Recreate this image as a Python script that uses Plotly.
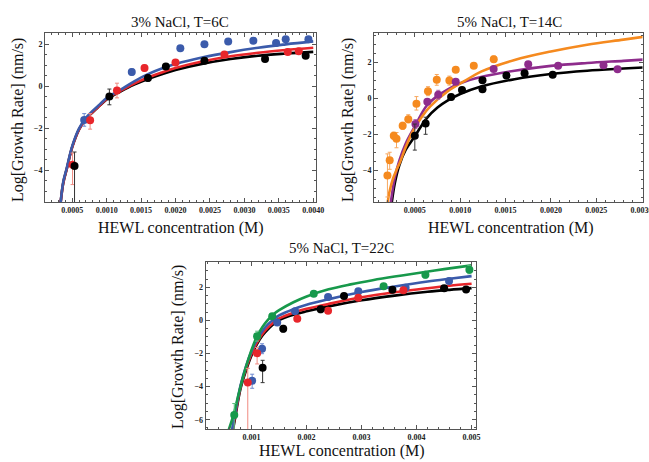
import plotly.graph_objects as go

# ---------------- Panel 1: 3% NaCl, T=6C ----------------
p1_blue_x = [0.000674, 0.001365, 0.00207, 0.00242, 0.002765, 0.00313, 0.00346, 0.0036, 0.00393]
p1_blue_y = [-1.60, 0.68, 1.81, 2.01, 2.14, 2.17, 2.06, 2.24, 2.24]
p1_blue_ep = [0.30, 0.15, 0.10, 0.06, 0.06, 0.06, 0.06, 0.06, 0.06]
p1_blue_em = [0.30, 0.15, 0.10, 0.06, 0.06, 0.06, 0.06, 0.06, 0.06]

p1_red_x = [0.000505, 0.00076, 0.00115, 0.00155, 0.0020, 0.00271, 0.00363, 0.00379]
p1_red_y = [-3.73, -1.62, -0.20, 0.87, 1.13, 1.51, 1.63, 1.67]
p1_red_ep = [0.55, 0.32, 0.35, 0.15, 0.10, 0.08, 0.08, 0.08]
p1_red_em = [0.95, 0.42, 0.35, 0.15, 0.10, 0.08, 0.08, 0.08]

p1_black_x = [0.000534, 0.00104, 0.0016, 0.00186, 0.00242, 0.0033, 0.00389]
p1_black_y = [-3.79, -0.48, 0.40, 0.95, 1.22, 1.30, 1.46]
p1_black_ep = [0.66, 0.35, 0.15, 0.08, 0.10, 0.08, 0.12]
p1_black_em = [2.50, 0.40, 0.15, 0.08, 0.10, 0.08, 0.12]

p1_fit_x = [0.00033, 0.00037, 0.00042, 0.0005, 0.0006, 0.0007, 0.0008, 0.0009, 0.0010,
            0.0012, 0.0014, 0.0016, 0.0018, 0.0020, 0.0024, 0.0028, 0.0032, 0.0036, 0.0040]
p1_fit_black = [-5.6, -4.6, -3.95, -2.9, -2.05, -1.55, -1.22, -0.92, -0.62,
                -0.25, 0.08, 0.35, 0.58, 0.78, 1.08, 1.30, 1.46, 1.56, 1.64]
p1_fit_red = [-5.6, -4.6, -3.95, -2.9, -2.05, -1.55, -1.21, -0.91, -0.60,
              -0.22, 0.13, 0.42, 0.66, 0.87, 1.19, 1.43, 1.60, 1.73, 1.84]
p1_fit_blue = [-5.6, -4.55, -3.9, -2.85, -2.0, -1.5, -1.16, -0.86, -0.56,
               -0.17, 0.24, 0.58, 0.85, 1.06, 1.38, 1.63, 1.84, 2.0, 2.14]

# ---------------- Panel 2: 5% NaCl, T=14C ----------------
p2_orange_x = [0.000198, 0.000223, 0.000268, 0.000298, 0.000366, 0.000428, 0.000518,
               0.000645, 0.000742, 0.000881, 0.000951, 0.00115, 0.00137]
p2_orange_y = [-4.28, -3.44, -2.07, -2.24, -1.52, -1.15, -0.29, 0.41, 1.04, 1.00, 1.61, 1.83, 2.19]
p2_orange_ep = [1.20, 0.45, 0.20, 0.35, 0.20, 0.25, 0.40, 0.25, 0.30, 0.25, 0.10, 0.10, 0.18]
p2_orange_em = [1.20, 0.50, 0.20, 0.50, 0.20, 0.20, 0.35, 0.25, 0.30, 0.25, 0.10, 0.10, 0.18]

p2_purple_x = [0.000507, 0.000638, 0.000758, 0.000951, 0.001369, 0.00175, 0.00208, 0.00258, 0.002735]
p2_purple_y = [-1.42, -0.18, 0.21, 0.93, 1.65, 1.91, 1.82, 1.86, 1.63]
p2_purple_ep = [0.25, 0.10, 0.25, 0.10, 0.10, 0.08, 0.08, 0.08, 0.08]
p2_purple_em = [0.25, 0.10, 0.25, 0.10, 0.10, 0.08, 0.08, 0.08, 0.08]

p2_black_x = [0.0005, 0.000619, 0.0009, 0.00102, 0.001246, 0.001246, 0.00151, 0.00171, 0.00202]
p2_black_y = [-2.07, -1.39, 0.08, 0.48, 1.02, 0.52, 1.28, 1.41, 1.33]
p2_black_ep = [0.65, 0.35, 0.15, 0.10, 0.10, 0.10, 0.10, 0.10, 0.10]
p2_black_em = [0.80, 0.60, 0.15, 0.10, 0.10, 0.10, 0.10, 0.10, 0.10]

p2_orange_fit_x = [0.0002, 0.00022, 0.00026, 0.0003, 0.00034, 0.0004, 0.00048, 0.00058, 0.00067,
                   0.00086, 0.00105, 0.00123, 0.0016, 0.0020, 0.0024, 0.0028, 0.00302]
p2_orange_fit_y = [-5.8, -5.2, -4.45, -3.95, -3.5, -2.7, -1.8, -1.0, -0.44,
                   0.39, 0.98, 1.5, 2.15, 2.62, 3.0, 3.28, 3.44]
p2_fit_x = [0.000235, 0.00028, 0.00033, 0.0004, 0.0005, 0.00063, 0.00075, 0.00086, 0.00100,
            0.00123, 0.0016, 0.0020, 0.0024, 0.0028, 0.00302]
p2_fit_purple = [-5.8, -4.4, -3.45, -2.5, -1.55, -0.4, 0.15, 0.5, 0.85,
                 1.2, 1.55, 1.82, 1.98, 2.1, 2.17]
p2_fit_black = [-6.2, -4.7, -3.7, -2.85, -2.1, -1.1, -0.5, -0.12, 0.25,
                0.67, 1.08, 1.37, 1.55, 1.67, 1.73]

# ---------------- Panel 3: 5% NaCl, T=22C ----------------
p3_green_x = [0.000684, 0.0011, 0.001375, 0.00213, 0.0034, 0.00416, 0.00496]
p3_green_y = [-5.72, -0.95, 0.26, 1.61, 2.07, 2.76, 3.07]
p3_green_ep = [0.70, 0.30, 0.10, 0.15, 0.10, 0.20, 0.25]
p3_green_em = [1.00, 0.30, 0.10, 0.15, 0.10, 0.20, 0.25]

p3_blue_x = [0.00101, 0.00119, 0.001465, 0.00179, 0.00239, 0.00294, 0.0038, 0.00459]
p3_blue_y = [-3.65, -1.71, -0.12, 0.56, 1.42, 1.76, 1.97, 2.38]
p3_blue_ep = [0.40, 0.30, 0.10, 0.10, 0.10, 0.10, 0.10, 0.10]
p3_blue_em = [0.45, 0.30, 0.10, 0.10, 0.10, 0.10, 0.10, 0.10]

p3_red_x = [0.00093, 0.0011, 0.00183, 0.00239, 0.00294, 0.00376]
p3_red_y = [-3.75, -1.98, 0.10, 0.58, 1.37, 1.83]
p3_red_ep = [0.85, 0.35, 0.15, 0.10, 0.10, 0.10]
p3_red_em = [3.00, 0.65, 0.15, 0.10, 0.10, 0.10]

p3_black_x = [0.0012, 0.001575, 0.002255, 0.00268, 0.00356, 0.0045, 0.0049]
p3_black_y = [-2.86, -0.50, 0.67, 1.48, 1.86, 1.94, 1.87]
p3_black_ep = [0.45, 0.20, 0.20, 0.10, 0.10, 0.10, 0.10]
p3_black_em = [0.90, 0.20, 0.20, 0.10, 0.10, 0.10, 0.10]

p3_green_fit_x = [0.000585, 0.00068, 0.00076, 0.00085, 0.00095, 0.00103, 0.0011, 0.0012,
                  0.0013, 0.0014, 0.0015, 0.00176, 0.0020, 0.0024, 0.0028, 0.0032, 0.0036,
                  0.0040, 0.0045, 0.0050]
p3_green_fit_y = [-6.6, -5.6, -4.5, -3.35, -2.25, -1.5, -0.95, -0.38,
                  0.05, 0.38, 0.62, 1.1, 1.45, 1.88, 2.18, 2.43, 2.65,
                  2.85, 3.1, 3.33]
p3_fit_x = [0.00064, 0.0007, 0.0008, 0.0009, 0.0010, 0.0011, 0.0012, 0.0013, 0.0014, 0.0015,
            0.00176, 0.0020, 0.0024, 0.0030, 0.0036, 0.0042, 0.0046, 0.0050]
p3_fit_blue = [-6.7, -5.6, -3.9, -2.75, -1.85, -1.15, -0.62, -0.22, 0.06, 0.3,
               0.68, 0.95, 1.28, 1.72, 2.05, 2.35, 2.52, 2.68]
p3_fit_red = [-6.85, -5.75, -4.0, -2.9, -2.0, -1.32, -0.8, -0.42, -0.12, 0.12,
              0.47, 0.7, 1.0, 1.4, 1.7, 1.95, 2.1, 2.22]
p3_fit_black = [-7.0, -5.9, -4.1, -3.0, -2.1, -1.42, -0.9, -0.52, -0.22, 0.02,
                0.34, 0.55, 0.85, 1.22, 1.5, 1.73, 1.85, 1.95]

titles = ["3% NaCl, T=6C", "5% NaCl, T=14C", "5% NaCl, T=22C"]
x_title = "HEWL concentration (M)"
y_title = "Log[Growth Rate] (nm/s)"

BLUE = "#3b5bab"
RED = "#e8262b"
BLACK = "#000000"
ORANGE = "#f58a1f"
PURPLE = "#8e2c8c"
GREEN = "#17994b"
LIGHT = {BLUE: "#6f8ad0", RED: "#f08a80", BLACK: "#333333", ORANGE: "#f7a860",
         PURPLE: "#b06ab0", GREEN: "#5cbf80"}

W, H = 649, 462
fig = go.Figure()


def fit(ax, x, y, color):
    fig.add_trace(go.Scatter(x=x, y=y, mode="lines", line=dict(color=color, width=2.6, shape="spline"),
                             xaxis=ax[0], yaxis=ax[1], showlegend=False, hoverinfo="skip"))


def pts(ax, x, y, ep, em, color):
    fig.add_trace(go.Scatter(x=x, y=y, mode="markers",
                             marker=dict(color=color, size=8, line=dict(width=0)),
                             error_y=dict(type="data", array=ep, arrayminus=em, color=LIGHT[color],
                                          thickness=1, width=2),
                             xaxis=ax[0], yaxis=ax[1], showlegend=False))


A1, A2, A3 = ("x", "y"), ("x2", "y2"), ("x3", "y3")
# panel 1
fit(A1, p1_fit_x, p1_fit_black, BLACK)
fit(A1, p1_fit_x, p1_fit_red, RED)
fit(A1, p1_fit_x, p1_fit_blue, BLUE)
pts(A1, p1_blue_x, p1_blue_y, p1_blue_ep, p1_blue_em, BLUE)
pts(A1, p1_red_x, p1_red_y, p1_red_ep, p1_red_em, RED)
pts(A1, p1_black_x, p1_black_y, p1_black_ep, p1_black_em, BLACK)
# panel 2
fit(A2, p2_fit_x, p2_fit_black, BLACK)
fit(A2, p2_fit_x, p2_fit_purple, PURPLE)
fit(A2, p2_orange_fit_x, p2_orange_fit_y, ORANGE)
pts(A2, p2_orange_x, p2_orange_y, p2_orange_ep, p2_orange_em, ORANGE)
pts(A2, p2_purple_x, p2_purple_y, p2_purple_ep, p2_purple_em, PURPLE)
pts(A2, p2_black_x, p2_black_y, p2_black_ep, p2_black_em, BLACK)
# panel 3
fit(A3, p3_fit_x, p3_fit_black, BLACK)
fit(A3, p3_fit_x, p3_fit_red, RED)
fit(A3, p3_fit_x, p3_fit_blue, BLUE)
fit(A3, p3_green_fit_x, p3_green_fit_y, GREEN)
pts(A3, p3_green_x, p3_green_y, p3_green_ep, p3_green_em, GREEN)
pts(A3, p3_blue_x, p3_blue_y, p3_blue_ep, p3_blue_em, BLUE)
pts(A3, p3_red_x, p3_red_y, p3_red_ep, p3_red_em, RED)
pts(A3, p3_black_x, p3_black_y, p3_black_ep, p3_black_em, BLACK)

FRAME = "#555555"
TICKFONT = dict(family="Liberation Serif", size=8, color="#222222", weight="bold")


def xax(dom, rng, dtick, mdtick, fmt, anchor):
    return dict(domain=dom, range=rng, anchor=anchor, showline=True, linecolor=FRAME, linewidth=1,
                mirror="allticks", ticks="inside", ticklen=4, tickcolor=FRAME, tickwidth=1,
                tick0=0, dtick=dtick, tickformat=fmt, tickfont=TICKFONT, showgrid=False, zeroline=False,
                automargin=False, ticklabeloverflow="allow",
                minor=dict(ticks="inside", ticklen=2, dtick=mdtick, tick0=0, tickcolor=FRAME, showgrid=False))


def yax(dom, rng, anchor):
    return dict(domain=dom, range=rng, anchor=anchor, showline=True, linecolor=FRAME, linewidth=1,
                mirror="allticks", ticks="inside", ticklen=4, tickcolor=FRAME, tickwidth=1,
                tick0=0, dtick=2, tickfont=TICKFONT, showgrid=False, zeroline=False,
                automargin=False,
                minor=dict(ticks="inside", ticklen=2, dtick=0.5, tick0=0, tickcolor=FRAME, showgrid=False))


def px(v):
    return v / W


def py(v):
    return 1 - v / H


fig.update_layout(
    width=W, height=H, margin=dict(l=0, r=0, t=0, b=0, autoexpand=False),
    paper_bgcolor="white", plot_bgcolor="white", showlegend=False,
    xaxis=xax([px(45), px(316)], [0.000105, 0.00404], 0.0005, 0.0001, ".4f", "y"),
    yaxis=yax([py(202), py(33)], [-5.51, 2.54], "x"),
    xaxis2=xax([px(374), px(642.5)], [0.00005, 0.00301], 0.0005, 0.0001, ".4f", "y2"),
    yaxis2=yax([py(202), py(33)], [-5.76, 3.65], "x2"),
    xaxis3=xax([px(205.7), px(476)], [0.000165, 0.00508], 0.001, 0.0002, ".3f", "y3"),
    yaxis3=yax([py(429.3), py(261.7)], [-6.58, 3.55], "x3"),
)

TF = dict(family="Liberation Serif", size=15, color="#111111")
AF = dict(family="Liberation Serif", size=16, color="#111111")
ann = []
for (tx, ty), t in zip([(180, 22), (510, 22), (341, 248)], titles):
    ann.append(dict(x=px(tx), y=py(ty), xref="paper", yref="paper", text=t, showarrow=False,
                    font=TF, xanchor="center", yanchor="middle"))
for (tx, ty) in [(181, 228), (511, 228), (342, 451)]:
    ann.append(dict(x=px(tx), y=py(ty), xref="paper", yref="paper", text=x_title, showarrow=False,
                    font=AF, xanchor="center", yanchor="middle"))
for (tx, ty) in [(18, 120), (348, 120), (178, 347)]:
    ann.append(dict(x=px(tx), y=py(ty), xref="paper", yref="paper", text=y_title, showarrow=False,
                    font=AF, xanchor="center", yanchor="middle", textangle=-90))
fig.update_layout(annotations=ann)

fig.write_html(
    "out.html",
    config={"displayModeBar": False},
    post_script="document.body.style.margin='0';document.body.style.padding='0';"
                "document.body.style.overflow='hidden';",
)
